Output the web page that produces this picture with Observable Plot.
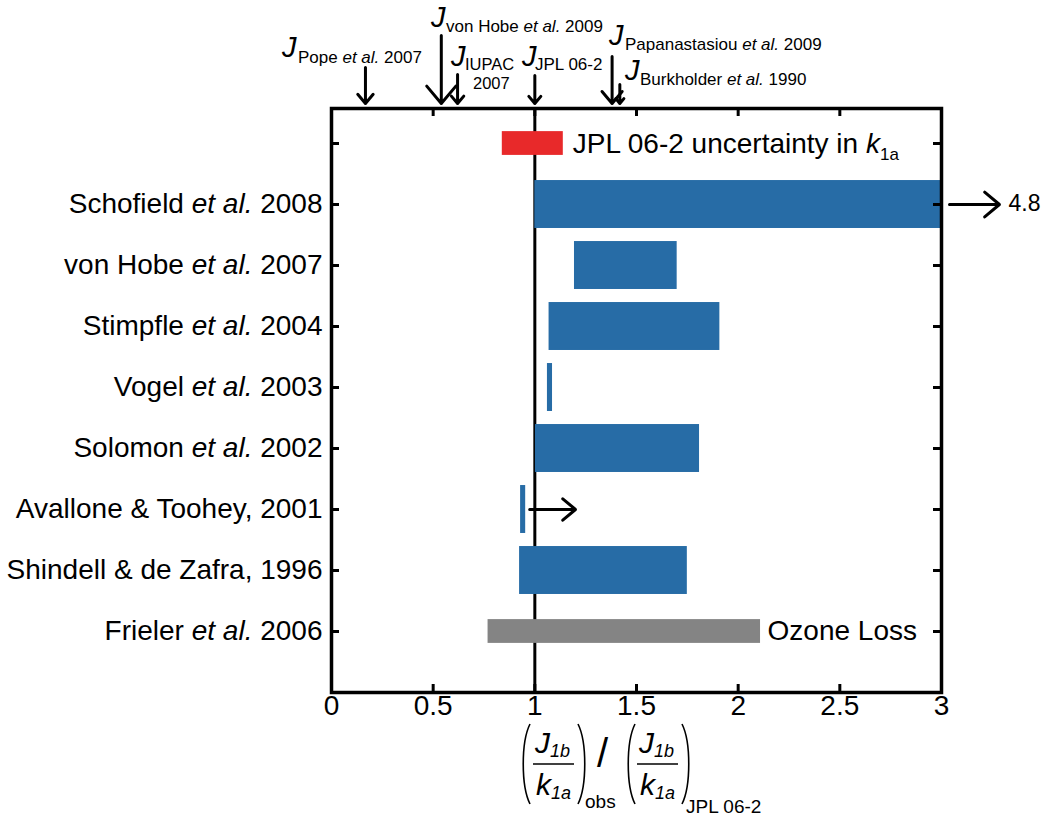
<!DOCTYPE html>
<html><head><meta charset="utf-8">
<script src="https://cdn.jsdelivr.net/npm/d3@7"></script>
<script src="https://cdn.jsdelivr.net/npm/@observablehq/plot@0.6"></script>
<style>
body{margin:0;background:#fff}
svg text{white-space:pre}
</style>
</head><body><div id="chart"></div>
<script>
// ---------- data ----------
const studies = ["Schofield et al. 2008", "von Hobe et al. 2007", "Stimpfle et al. 2004", "Vogel et al. 2003", "Solomon et al. 2002", "Avallone & Toohey, 2001", "Shindell & de Zafra, 1996"];
const studyLow  = [1.00, 1.195, 1.07, 1.062, 1.003, 0.93, 0.925];
const studyHigh = [4.8, 1.70, 1.91, 1.087, 1.81, 0.955, 1.75];
const ozoneStudy = "Frieler et al. 2006";
const ozoneRange = [0.77, 2.11];
const jplUncertainty = [0.84, 1.14];
const avalloneLimitTo = 1.2;
const refNames  = ["Pope et al. 2007", "von Hobe et al. 2009", "IUPAC 2007", "JPL 06-2", "Papanastasiou et al. 2009", "Burkholder et al. 1990"];
const refValues = [0.167, 0.54, 0.62, 1.0, 1.38, 1.418];
const xTicks = [0, 0.5, 1, 1.5, 2, 2.5, 3];
const rowLabels = ["", ...studies, ozoneStudy];

// ---------- layout ----------
const W = 1042, H = 817, mL = 331, mR = 101, mT = 108, mB = 125;
const plotH = H - mT - mB, plotW = W - mL - mR;
const yDomain = [-0.574, 9.0];
const pxToY = p => yDomain[0] + (p - mT) / plotH * (yDomain[1] - yDomain[0]);
const FONT = "'Liberation Sans', Arial, Helvetica, sans-serif";
const blue = "#276ca6", red = "#e8292a", gray = "#848484";
const halfBlue = 0.393, halfThin = 0.195;
const rows = d3.range(0, 9);

const bars = studies.map((s, i) => ({row: i + 1, lo: studyLow[i], hi: studyHigh[i]}));
const offscale = bars.filter(d => d.hi > 3);
const refArrowStart = [67, 35, 74, 75, 56, 84];
const refs = refValues.map((v, i) => ({x: v, y1: pxToY(refArrowStart[i]), y2: pxToY(103)}));

const plot = Plot.plot({
  width: W, height: H,
  marginLeft: mL, marginRight: mR, marginTop: mT, marginBottom: mB,
  style: {fontFamily: FONT, fontSize: "28px", color: "black", background: "white", overflow: "visible"},
  x: {domain: [0, 3]},
  y: {domain: yDomain, reverse: true},
  marks: [
    Plot.ruleX([1], {stroke: "black", strokeWidth: 3}),
    Plot.rect(bars, {x1: "lo", x2: "hi", y1: d => d.row - halfBlue, y2: d => d.row + halfBlue, fill: blue, clip: true}),
    Plot.rect([{lo: jplUncertainty[0], hi: jplUncertainty[1], row: 0}], {x1: "lo", x2: "hi", y1: d => d.row - halfThin, y2: d => d.row + halfThin, fill: red}),
    Plot.rect([{lo: ozoneRange[0], hi: ozoneRange[1], row: 8}], {x1: "lo", x2: "hi", y1: d => d.row - halfThin, y2: d => d.row + halfThin, fill: gray}),
    Plot.text([{hi: ozoneRange[1], row: 8}], {x: "hi", y: "row", text: () => "Ozone Loss", textAnchor: "start", dx: 7, fontSize: 28, fill: "black"}),
    // lower-limit arrow for Avallone & Toohey
    Plot.arrow([{lo: studyHigh[5], hi: avalloneLimitTo, row: 6}], {x1: "lo", x2: "hi", y1: "row", y2: "row", insetStart: 4, stroke: "black", strokeWidth: 3, headLength: 13, headAngle: 80}),
    // off-scale arrow
    Plot.arrow(offscale, {x1: () => 3, x2: () => 3.285, y1: "row", y2: "row", insetStart: 8, stroke: "black", strokeWidth: 3, headLength: 13, headAngle: 80}),
    Plot.text(offscale, {x: () => 3.285, y: "row", text: d => String(d.hi), textAnchor: "start", dx: 9, dy: -1, fontSize: 23, fill: "black"}),
    // reference J arrows above the frame
    Plot.arrow(refs, {x1: "x", x2: "x", y1: "y1", y2: "y2", stroke: "black", strokeWidth: 3, headLength: 12, headAngle: 80}),
    Plot.frame({stroke: "black", strokeWidth: 3.5}),
    Plot.tickX(xTicks, {x: d => d, insetTop: plotH - 8, strokeWidth: 3, stroke: "black"}),
    Plot.tickX(xTicks, {x: d => d, insetBottom: plotH - 8, strokeWidth: 3, stroke: "black"}),
    Plot.tickY(rows, {y: d => d, insetRight: plotW - 8, strokeWidth: 3, stroke: "black"}),
    Plot.tickY(rows, {y: d => d, insetLeft: plotW - 8, strokeWidth: 3, stroke: "black"}),
    Plot.axisX(xTicks, {tickSize: 0, tickPadding: 3, tickFormat: d => String(d), label: null, fontSize: 28}),
    Plot.axisY(rows, {tickSize: 0, tickPadding: 9, tickFormat: i => rowLabels[i], label: null, fontSize: 28})
  ]
});
document.getElementById("chart").appendChild(plot);

const svg = d3.select(plot);
const sx = v => plot.scale("x").apply(v);
const sy = v => plot.scale("y").apply(v);

// italic "et al." in y tick labels
svg.selectAll('g[aria-label="y-axis tick label"] text').each(function () {
  const s = this.textContent;
  if (s.includes("et al.")) {
    const [a, b] = s.split("et al.");
    const t = d3.select(this); t.text(null);
    t.append("tspan").text(a);
    t.append("tspan").attr("font-style", "italic").text("et al.");
    t.append("tspan").text(b);
  }
});

const ann = svg.append("g").attr("font-family", FONT).attr("fill", "black");
function txt(x, y, size, parts, anchor) {
  const t = ann.append("text").attr("x", x).attr("y", y).attr("font-size", size).attr("text-anchor", anchor || "start");
  (Array.isArray(parts) ? parts : [parts]).forEach(p => {
    if (typeof p === "string") t.append("tspan").text(p);
    else {
      const ts = t.append("tspan").text(p.t);
      if (p.i) ts.attr("font-style", "italic");
      if (p.s) ts.attr("font-size", p.s);
      if (p.dy) ts.attr("dy", p.dy);
    }
  });
  return t;
}
function splitEtAl(s) {
  if (!s.includes("et al.")) return [s];
  const [a, b] = s.split("et al.");
  return [a, {t: "et al.", i: true}, b];
}

// legend text for the red bar
txt(sx(jplUncertainty[1]) + 10, sy(0) + 10, 28, ["JPL 06-2 uncertainty in ", {t: "k", i: true}, {t: "1a", s: 17, dy: 7}]);

// J labels above the arrows
const refLayout = [
  {jx: 282, jy: 57, sx: 298, sy: 63},
  {jx: 431, jy: 27, sx: 446, sy: 32},
  {jx: 451, jy: 66, sx: 465, sy: 70},
  {jx: 522, jy: 66, sx: 535, sy: 70},
  {jx: 609, jy: 45, sx: 625, sy: 50},
  {jx: 625, jy: 80, sx: 640, sy: 85}
];
refNames.forEach((name, i) => {
  const L = refLayout[i];
  txt(L.jx, L.jy, 29, [{t: "J", i: true}]);
  if (name === "IUPAC 2007") {
    txt(L.sx, L.sy, 16.5, "IUPAC");
    txt(L.sx + 8, L.sy + 19, 16.5, "2007");
  } else {
    txt(L.sx, L.sy, 17, splitEtAl(name));
  }
});

// x-axis label: (J1b/k1a)_obs / (J1b/k1a)_JPL 06-2
function paren(x0, x1, open) {
  const top = 724, bot = 804, mid = (top + bot) / 2;
  const xe = open ? x1 : x0, xc = open ? x0 : x1;
  ann.append("path").attr("fill", "none").attr("stroke", "black").attr("stroke-width", 1.6)
    .attr("d", `M${xe},${top} C${xc},${mid - 22} ${xc},${mid + 22} ${xe},${bot}`);
}
function frac(x) {
  txt(x, 753, 30, [{t: "J", i: true}, {t: "1b", i: true, s: 18, dy: 4}]);
  ann.append("line").attr("x1", x - 2).attr("x2", x + 39).attr("y1", 764).attr("y2", 764).attr("stroke", "black").attr("stroke-width", 1.3);
  txt(x + 1, 795, 30, [{t: "k", i: true}, {t: "1a", i: true, s: 18, dy: 4}]);
}
paren(521, 530, true);
frac(535);
paren(578, 587, false);
txt(585, 808, 19, "obs");
txt(597, 767, 40, "/");
paren(626, 635, true);
frac(639);
paren(682, 691, false);
txt(686, 813, 19, "JPL 06-2");
</script>
</body></html>
